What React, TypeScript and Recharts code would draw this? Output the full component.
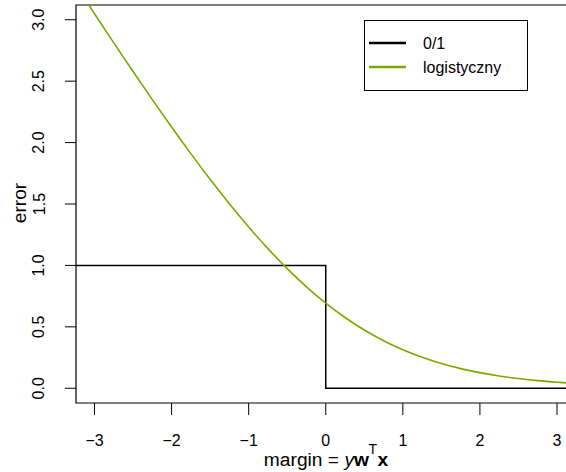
import React from "react";
import { LineChart, Line, XAxis, YAxis, ReferenceArea } from "recharts";

const xTicks = [-3, -2, -1, 0, 1, 2, 3];
const yTicks = [0, 0.5, 1, 1.5, 2, 2.5, 3];
const xDomain = [-3.24, 3.24];
const yDomain = [-0.12, 3.12];

const marginX = [-3.24, -3, -2.75, -2.5, -2.25, -2, -1.75, -1.5, -1.25, -1, -0.75, -0.5, -0.25, 0, 0.25, 0.5, 0.75, 1, 1.25, 1.5, 1.75, 2, 2.25, 2.5, 2.75, 3, 3.24];
const logisticY = [3.278, 3.049, 2.812, 2.579, 2.35, 2.127, 1.91, 1.701, 1.502, 1.313, 1.137, 0.974, 0.826, 0.693, 0.576, 0.474, 0.387, 0.313, 0.252, 0.201, 0.16, 0.127, 0.1, 0.079, 0.062, 0.049, 0.038];

const stepX = [-3.24, 0, 0, 3.24];
const stepY = [1, 1, 0, 0];

const seriesNames = ["0/1", "logistyczny"];
const colors = ["#000000", "#7BA800"];

const logisticData = marginX.map((x, i) => ({ x, y: logisticY[i] }));
const stepData = stepX.map((x, i) => ({ x, y: stepY[i] }));

const FONT = "'Liberation Sans', Arial, Helvetica, sans-serif";
const TITLE_SIZE = 19.2;

const fmtX = (v: number) => (v < 0 ? "\u2212" + Math.abs(v) : String(v));

const XTick = (props: any) => {
  const { x, payload } = props;
  return (
    <text x={x} y={446} textAnchor="middle" fontSize={16} fontFamily={FONT} fill="#000">
      {fmtX(payload.value)}
    </text>
  );
};

const YTick = (props: any) => {
  const { y, payload } = props;
  const cx = 39;
  return (
    <text
      x={cx}
      y={y}
      transform={`rotate(-90, ${cx}, ${y})`}
      textAnchor="middle"
      dominantBaseline="central"
      fontSize={16}
      fontFamily={FONT}
      fill="#000"
    >
      {payload.value.toFixed(1)}
    </text>
  );
};

const LegendBox = () => (
  <svg width={566} height={472} style={{ position: "absolute", left: 0, top: 0 }}>
    <rect x={364.5} y={20.5} width={163} height={70} fill="#fff" stroke="#000" strokeWidth={1} />
    {seriesNames.map((n, i) => (
      <g key={n}>
        <line x1={369} x2={406} y1={43 + i * 24} y2={43 + i * 24} stroke={colors[i]} strokeWidth={2.5} />
        <text x={423} y={43 + i * 24 + 5.5} fontSize={16} fontFamily={FONT} fill="#000">
          {n}
        </text>
      </g>
    ))}
  </svg>
);

export default function App() {
  return (
    <div style={{ position: "absolute", left: 0, top: 0, width: 566, height: 472, overflow: "hidden", background: "#fff" }}>
      <LineChart width={580} height={472} margin={{ left: 0, right: 4.5, top: 5, bottom: 0 }}>
        <XAxis
          type="number"
          dataKey="x"
          domain={xDomain}
          ticks={xTicks}
          allowDataOverflow
          axisLine={false}
          tickSize={12}
          tickLine={{ stroke: "#000", strokeWidth: 1 }}
          tick={<XTick />}
          interval={0}
          height={69}
        />
        <YAxis
          type="number"
          dataKey="y"
          domain={yDomain}
          ticks={yTicks}
          allowDataOverflow
          axisLine={false}
          tickSize={11}
          tickLine={{ stroke: "#000", strokeWidth: 1 }}
          tick={<YTick />}
          interval={0}
          width={76}
        />
        <ReferenceArea x1={-3.24} x2={3.24} y1={-0.12} y2={3.12} fill="none" stroke="#000" strokeWidth={1.2} ifOverflow="visible" />
        <Line data={stepData} dataKey="y" type="linear" stroke={colors[0]} strokeWidth={1.5} dot={false} isAnimationActive={false} name={seriesNames[0]} />
        <Line data={logisticData} dataKey="y" type="natural" stroke={colors[1]} strokeWidth={1.6} dot={false} isAnimationActive={false} name={seriesNames[1]} />
      </LineChart>
      <LegendBox />
      <svg width={566} height={472} style={{ position: "absolute", left: 0, top: 0, pointerEvents: "none" }}>
        <text x={19} y={203} transform="rotate(-90, 19, 203)" textAnchor="middle" dominantBaseline="central" fontSize={TITLE_SIZE} fontFamily={FONT} fill="#000">
          error
        </text>
        <text x={326} y={466} textAnchor="middle" fontSize={TITLE_SIZE} fontFamily={FONT} fill="#000">
          margin = <tspan fontStyle="italic">y</tspan>
          <tspan fontWeight="bold">w</tspan>
          <tspan fontSize={14} dx={-0.5} dy={-12}>T</tspan>
          <tspan fontWeight="bold" dx={0.5} dy={12}>x</tspan>
        </text>
      </svg>
    </div>
  );
}
